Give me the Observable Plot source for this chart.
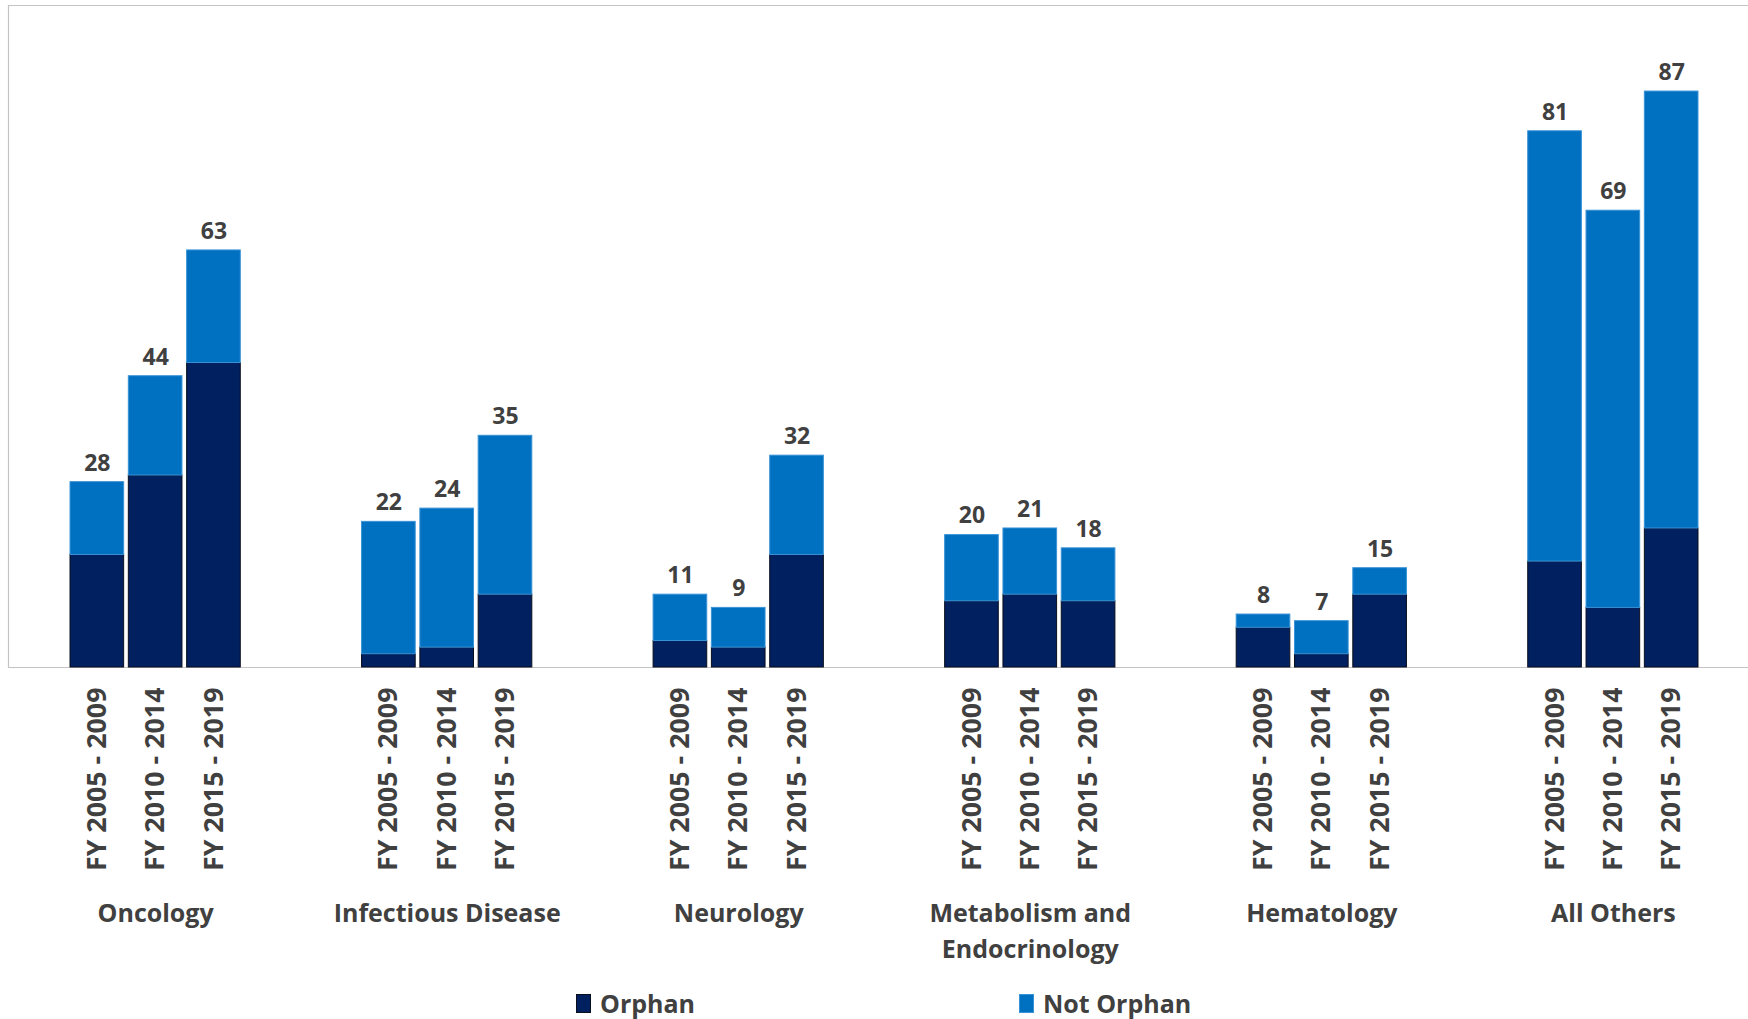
<!DOCTYPE html>
<html>
<head>
<meta charset="utf-8">
<script src="https://cdn.jsdelivr.net/npm/d3@7"></script>
<script src="https://cdn.jsdelivr.net/npm/@observablehq/plot@0.6"></script>
<style>
  html, body { margin: 0; padding: 0; background: #ffffff; }
  body { width: 1748px; height: 1019px; overflow: hidden; font-family: "Open Sans", sans-serif; }
  #chart svg { display: block; }
  .legend { height: 44px; box-sizing: border-box; padding-top: 12px; padding-left: 576px;
            display: flex; align-items: center; color: #404040; font-size: 25px; font-weight: 700; }
  .legend .item { display: flex; align-items: center; }
  .legend .swatch { width: 15px; height: 19px; box-sizing: border-box; margin-right: 9px; }
  .legend .item + .item { margin-left: 324px; }
</style>
</head>
<body>
<div id="chart"></div>
<div class="legend" id="legend"></div>
<script>
// Therapeutic areas and approval periods
const groups = ["Oncology", "Infectious Disease", "Neurology", "Metabolism and Endocrinology", "Hematology", "All Others"];
const periods = ["FY 2005 - 2009", "FY 2010 - 2014", "FY 2015 - 2019"];
const statuses = ["Orphan", "Not Orphan"];

// Approvals per area and period (rows follow groups, columns follow periods)
const orphan    = [[17, 29, 46], [2, 3, 11], [4, 3, 17], [10, 11, 10], [6, 2, 11], [16, 9, 21]];
const notOrphan = [[11, 15, 17], [20, 21, 24], [7, 6, 15], [10, 10, 8], [2, 5, 4], [65, 60, 66]];

const fillColors = {"Orphan": "#002060", "Not Orphan": "#0070C0"};
const edgeColors = {"Orphan": "#0b0f1c", "Not Orphan": "#3a93d6"};

const key = (g, p) => `${g}|${p}`;

// Stack rows: orphan first so it sits at the bottom of each column
const rows = [];
groups.forEach((g, gi) => {
  periods.forEach((p, pi) => {
    rows.push({group: g, period: p, key: key(g, p), status: "Orphan", value: orphan[gi][pi]});
  });
});
groups.forEach((g, gi) => {
  periods.forEach((p, pi) => {
    rows.push({group: g, period: p, key: key(g, p), status: "Not Orphan", value: notOrphan[gi][pi]});
  });
});

// One row per column for the totals and period labels
const columns = [];
groups.forEach((g, gi) => {
  periods.forEach((p, pi) => {
    columns.push({group: g, period: p, key: key(g, p), total: orphan[gi][pi] + notOrphan[gi][pi]});
  });
});

// Band domain: each area gets an empty slot on either side of its three columns
const slots = groups.flatMap(g => [key(g, "before"), ...periods.map(p => key(g, p)), key(g, "after")]);
const middles = groups.map(g => ({group: g, key: key(g, periods[1])}));

const ink = "#404040";

const chart = Plot.plot({
  width: 1748,
  height: 975,
  marginLeft: 8,
  marginRight: 0,
  marginTop: 5,
  marginBottom: 308,
  style: {fontFamily: "'Open Sans', sans-serif", background: "#ffffff", overflow: "visible"},
  x: {type: "band", domain: slots, range: [11.7, 1756.3], paddingInner: 0.08, paddingOuter: 0, round: false, axis: null},
  y: {domain: [0, 100], axis: null},
  color: {type: "identity"},
  marks: [
    Plot.ruleY([0, 100], {stroke: "#c4c4c4", strokeWidth: 1.2}),
    Plot.frame({anchor: "left", stroke: "#c4c4c4", strokeWidth: 1.2}),
    Plot.barY(rows, {
      x: "key",
      y: "value",
      fill: d => fillColors[d.status],
      stroke: d => edgeColors[d.status],
      strokeWidth: 1
    }),
    Plot.text(columns, {
      x: "key", y: "total", text: d => String(d.total),
      dy: -19, fill: ink, fontSize: 23, fontWeight: 700
    }),
    Plot.text(columns, {
      x: "key", y: 0, text: "period",
      rotate: -90, textAnchor: "end", dy: 20,
      fill: ink, fontSize: 26.8, fontWeight: 700
    }),
    Plot.text(middles, {
      x: "key", y: 0, text: d => d.group.replace(" and ", " and\n"),
      lineAnchor: "top", lineHeight: 1.43, dy: 229,
      fill: ink, fontSize: 25, fontWeight: 700
    })
  ]
});
document.getElementById("chart").append(chart);

// Legend below the plot
const legend = document.getElementById("legend");
statuses.forEach(s => {
  const item = document.createElement("div");
  item.className = "item";
  const sw = document.createElement("span");
  sw.className = "swatch";
  sw.style.background = fillColors[s];
  sw.style.border = `1px solid ${edgeColors[s]}`;
  const label = document.createElement("span");
  label.textContent = s;
  item.append(sw, label);
  legend.append(item);
});
</script>
</body>
</html>
